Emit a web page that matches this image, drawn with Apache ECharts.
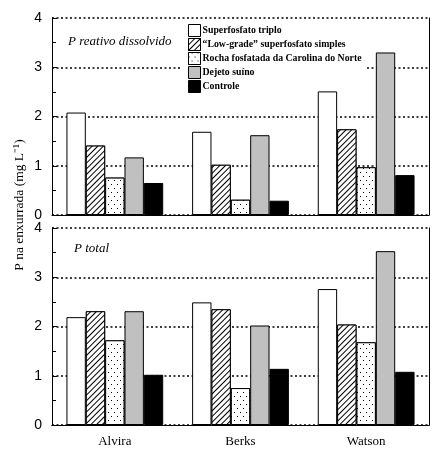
<!DOCTYPE html>
<html><head><meta charset="utf-8">
<script src="https://cdn.jsdelivr.net/npm/echarts@6/dist/echarts.min.js"></script>
<style>html,body{margin:0;padding:0;background:#fff}#c{width:444px;height:452px}</style>
</head><body><div id="c"></div>
<script>
var categories = ['Alvira', 'Berks', 'Watson'];
var seriesNames = ['Superfosfato triplo', '\u201cLow-grade\u201d superfosfato simples', 'Rocha fosfatada da Carolina do Norte', 'Dejeto su\u00edno', 'Controle'];
var yTicks = [0, 1, 2, 3, 4];
// P reativo dissolvido
var prdTriplo = [2.08, 1.69, 2.51];
var prdLowGrade = [1.41, 1.02, 1.74];
var prdRocha = [0.76, 0.31, 0.97];
var prdDejeto = [1.17, 1.62, 3.30];
var prdControle = [0.65, 0.29, 0.81];
// P total
var ptTriplo = [2.19, 2.49, 2.76];
var ptLowGrade = [2.31, 2.35, 2.04];
var ptRocha = [1.72, 0.75, 1.68];
var ptDejeto = [2.31, 2.02, 3.53];
var ptControle = [1.02, 1.14, 1.08];

var panels = [[prdTriplo, prdLowGrade, prdRocha, prdDejeto, prdControle],
              [ptTriplo, ptLowGrade, ptRocha, ptDejeto, ptControle]];

var styles = [
  {color: '#ffffff'},
  {color: '#ffffff', decal: {symbol: 'rect', color: '#000', backgroundColor: '#fff', dashArrayX: [1, 0], dashArrayY: [1, 3], rotation: -Math.PI / 4}},
  {color: '#ffffff', decal: {symbol: 'rect', symbolSize: 1, color: '#000', backgroundColor: '#fff', dashArrayX: [[1, 5], [0, 3, 1, 2]], dashArrayY: [1, 3]}},
  {color: '#c0c0c0'},
  {color: '#000000'}
];

var serif = 'Liberation Serif, Times New Roman, serif';
var sans = 'Liberation Sans, Arial, sans-serif';

var grids = [
  {left: 52, right: 15, top: 18, height: 197},
  {left: 52, right: 15, top: 228, height: 197}
];
var xAxes = [], yAxes = [], series = [];
for (var g = 0; g < 2; g++) {
  xAxes.push({type: 'category', gridIndex: g, data: categories,
    axisLine: {lineStyle: {color: '#000', width: 1}}, axisTick: {show: false},
    axisLabel: {show: g === 1, color: '#000', fontFamily: serif, fontSize: 13, margin: 10}});
  xAxes.push({type: 'category', gridIndex: g, position: 'top', data: categories,
    axisLine: {show: g === 1, lineStyle: {color: '#000', width: 1}}, axisTick: {show: false}, axisLabel: {show: false}});
  yAxes.push({type: 'value', gridIndex: g, min: yTicks[0], max: yTicks[yTicks.length - 1], interval: 1,
    axisLine: {show: true, lineStyle: {color: '#000', width: 1}},
    axisTick: {show: true, inside: true, length: 5, lineStyle: {color: '#000'}},
    minorTick: {show: true, splitNumber: 2, length: 4, lineStyle: {color: '#000'}},
    axisLabel: {color: '#000', fontFamily: sans, fontSize: 14, margin: 10},
    splitLine: {show: true, lineStyle: {color: '#000', width: 1.5, type: [2, 2.5]}}});
  yAxes.push({type: 'value', gridIndex: g, position: 'right', min: 0, max: 4,
    axisLine: {show: true, lineStyle: {color: '#000', width: 1}}, axisTick: {show: false},
    axisLabel: {show: false}, splitLine: {show: false}});
  for (var s = 0; s < 5; s++) {
    series.push({type: 'bar', name: seriesNames[s], xAxisIndex: g * 2, yAxisIndex: g * 2,
      data: panels[g][s], barGap: '0%', barCategoryGap: '23%', z: 3,
      itemStyle: Object.assign({borderColor: '#000', borderWidth: 1}, styles[s]),
      emphasis: {disabled: true}});
  }
}

var chart = echarts.init(document.getElementById('c'), null, {renderer: 'canvas'});
chart.setOption({
  animation: false,
  backgroundColor: '#fff',
  grid: grids,
  xAxis: xAxes,
  yAxis: yAxes,
  series: series,
  legend: {data: seriesNames, orient: 'vertical', left: 182, top: 22, itemWidth: 12, itemHeight: 12, itemGap: 1, z: 1,
    padding: [2, 4, 2, 6], backgroundColor: '#fff', icon: 'rect',
    itemStyle: {borderColor: '#000', borderWidth: 1},
    textStyle: {color: '#000', fontFamily: serif, fontSize: 9.8, fontWeight: 'bold', padding: [0, 0, 0, -3]}, selectedMode: false},
  graphic: [
    {type: 'text', left: 68, top: 35, style: {text: 'P reativo dissolvido', font: 'italic 13px ' + serif, fill: '#000'}},
    {type: 'text', left: 74, top: 242, style: {text: 'P total', font: 'italic 13px ' + serif, fill: '#000'}},
    {type: 'text', x: 19, y: 205, rotation: Math.PI / 2, style: {text: 'P na enxurrada (mg L\u207b\u00b9)', font: '13.5px ' + serif, fill: '#000', align: 'center', verticalAlign: 'middle'}}
  ]
});
</script></body></html>
